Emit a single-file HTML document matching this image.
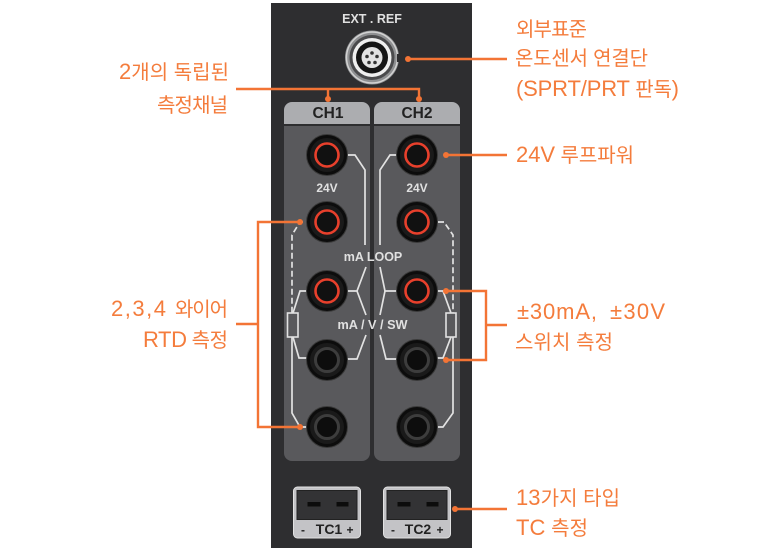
<!DOCTYPE html>
<html><head><meta charset="utf-8"><style>
html,body{margin:0;padding:0;background:#fff}
svg{display:block}
.o{font-family:"Liberation Sans","Noto Sans CJK KR",sans-serif;font-size:20px;fill:#f47c3c}
.w{font-family:"Liberation Sans",sans-serif;font-weight:700;fill:#e0e0e0;text-anchor:middle}
.k{font-family:"Liberation Sans",sans-serif;font-weight:700;fill:#222;text-anchor:middle}
.l{fill:none;stroke:#e2e2e2;stroke-width:1.700}
.or{fill:none;stroke:#f37435;stroke-width:2.400}
</style></head><body>
<svg width="757" height="551" viewBox="0 0 757 551" xmlns="http://www.w3.org/2000/svg">
<defs>
<g id="jr"><circle r="20.500" fill="#0c0c0c" stroke="#3a3a3a" stroke-width="1"/><circle r="17" fill="#1a1a1a"/><circle r="11.500" fill="#111" stroke="#e8402c" stroke-width="2.600"/></g>
<g id="jb"><circle r="20.500" fill="#0c0c0c" stroke="#3a3a3a" stroke-width="1"/><circle r="17" fill="#1a1a1a"/><circle r="11.500" fill="#0d0d0d" stroke="#3d3d3d" stroke-width="3"/></g>
<g id="tc"><rect x="0" y="0" width="67" height="51" rx="4" fill="#c3c3c6" stroke="#e2e2e2"/><rect x="3.500" y="3.500" width="60" height="29" fill="#333335" stroke="#222"/><rect x="14" y="15" width="13" height="4.500" fill="#0c0c0c"/><rect x="43" y="15" width="12" height="4.500" fill="#0c0c0c"/></g>
</defs>
<rect x="271" y="3" width="201" height="545" fill="#2e2e30"/>
<text class="w" x="372" y="23" font-size="12.500">EXT . REF</text>
<circle cx="372" cy="57.500" r="27" fill="#8f9092"/>
<circle cx="372" cy="57.500" r="25.500" fill="none" stroke="#d2d2d2" stroke-width="1.500"/>
<circle cx="372" cy="57.500" r="22.500" fill="#4a4a4c"/>
<circle cx="372" cy="57.500" r="19.500" fill="#efefef"/>
<circle cx="372" cy="57.500" r="16" fill="#151515"/>
<circle cx="372" cy="57.500" r="10.500" fill="#e2e2e2"/>
<g fill="#333"><circle cx="372" cy="53" r="1.800"/><circle cx="367" cy="56.500" r="1.800"/><circle cx="377" cy="56.500" r="1.800"/><circle cx="369" cy="62.500" r="1.800"/><circle cx="375" cy="62.500" r="1.800"/></g>
<rect x="397" y="54" width="4" height="8" fill="#2e2e30"/>
<path d="M284 124V110a8 8 0 0 1 8-8h70a8 8 0 0 1 8 8v14z" fill="#acadb0"/>
<path d="M374 124V110a8 8 0 0 1 8-8h70a8 8 0 0 1 8 8v14z" fill="#acadb0"/>
<path d="M284 126h86v327a8 8 0 0 1-8 8h-70a8 8 0 0 1-8-8z" fill="#59595c"/>
<path d="M374 126h86v327a8 8 0 0 1-8 8h-70a8 8 0 0 1-8-8z" fill="#59595c"/>
<text class="k" x="328" y="118" font-size="15.500">CH1</text>
<text class="k" x="417" y="118" font-size="15.500">CH2</text>
<path class="l" d="M347 155H355L365 170V245"/>
<path class="l" d="M397 155H390L380 170V245"/>
<path class="l" d="M303 222H300L292 235V313" stroke-dasharray="6 3"/>
<path class="l" d="M438 222H444L453 235V313" stroke-dasharray="6 3"/>
<path class="l" d="M347 291H357L366 267M357 291L366 315"/>
<path class="l" d="M397 291H385L380 267M385 291L380 315"/>
<path class="l" d="M347 359H357L366 335"/>
<path class="l" d="M397 359H386L380 335"/>
<path class="l" d="M307 291H300L293 313M293 337L299 358H307"/>
<path class="l" d="M437 291H443L451 313M451 337L443 358H437"/>
<path class="l" d="M292 337V413L300 427H308"/>
<path class="l" d="M453 337V413L443 427H437"/>
<rect x="287.500" y="313" width="10.500" height="24" fill="#59595c" stroke="#e2e2e2" stroke-width="1.600"/>
<rect x="446" y="313" width="10" height="24" fill="#59595c" stroke="#e2e2e2" stroke-width="1.600"/>
<text class="w" x="327" y="192" font-size="12">24V</text>
<text class="w" x="417" y="192" font-size="12">24V</text>
<text class="w" x="373" y="261" font-size="12.500">mA LOOP</text>
<text class="w" x="372.500" y="329" font-size="12.700">mA / V / SW</text>
<use href="#jr" x="327" y="155"/><use href="#jr" x="417" y="155"/>
<use href="#jr" x="327" y="222"/><use href="#jr" x="417" y="222"/>
<use href="#jr" x="327" y="291"/><use href="#jr" x="417" y="291"/>
<use href="#jb" x="327" y="360"/><use href="#jb" x="417" y="360"/>
<use href="#jb" x="327" y="427"/><use href="#jb" x="417" y="427"/>
<use href="#tc" x="293.500" y="487"/><use href="#tc" x="383.500" y="487"/>
<text class="k" x="329" y="534" font-size="14">TC1</text>
<text class="k" x="418" y="534" font-size="14">TC2</text>
<text class="k" x="303" y="534" font-size="12">-</text><text class="k" x="350" y="534" font-size="12">+</text>
<text class="k" x="393" y="534" font-size="12">-</text><text class="k" x="440" y="534" font-size="12">+</text>
<path class="or" d="M408 59H507"/>
<path class="or" d="M236 89H419V99M328 89V99"/>
<path class="or" d="M446 155H507"/>
<path class="or" d="M300 222H258V427H300M236 324H258"/>
<path class="or" d="M446 291H486V360H446M486 325H507"/>
<path class="or" d="M455 509H507"/>
<g fill="#f37435"><circle cx="408" cy="59" r="3"/><circle cx="328" cy="99" r="3"/><circle cx="419" cy="99" r="3"/><circle cx="446" cy="155" r="3"/><circle cx="300" cy="222" r="3"/><circle cx="300" cy="427" r="3"/><circle cx="446" cy="291" r="3"/><circle cx="446" cy="360" r="3"/><circle cx="455" cy="509" r="3"/></g>
<g class="o">
<text x="516" y="36" textLength="71">외부표준</text>
<text x="515" y="65" textLength="133">온도센서 연결단</text>
<text x="516" y="96" textLength="163"><tspan font-size="22">(SPRT/PRT</tspan> 판독<tspan font-size="22">)</tspan></text>
<text x="516" y="162" textLength="118"><tspan font-size="22">24V</tspan> 루프파워</text>
<text x="517" y="319" textLength="80" font-size="22">±30mA,</text>
<text x="610" y="319" textLength="55" font-size="22">±30V</text>
<text x="515" y="349" textLength="98">스위치 측정</text>
<text x="516" y="505" textLength="104"><tspan font-size="22">13</tspan>가지 타입</text>
<text x="516" y="535" textLength="72"><tspan font-size="22">TC</tspan> 측정</text>
<text x="119" y="79" textLength="110"><tspan font-size="22">2</tspan>개의 독립된</text>
<text x="157" y="112" textLength="71">측정채널</text>
<text x="111" y="316" textLength="55" font-size="22">2,3,4</text>
<text x="175" y="316" textLength="53">와이어</text>
<text x="143" y="347" textLength="85"><tspan font-size="22">RTD</tspan> 측정</text>
</g>
</svg>
</body></html>
